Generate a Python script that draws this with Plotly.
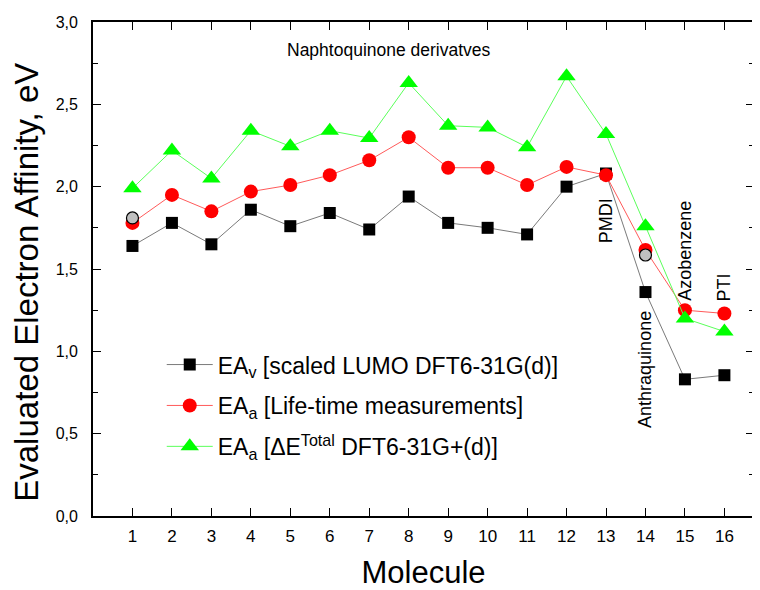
import plotly.graph_objects as go

molecules = list(range(1, 17))
ea_v_lumo = [1.64, 1.78, 1.65, 1.86, 1.76, 1.84, 1.74, 1.94, 1.78, 1.75, 1.71, 2.00, 2.08, 1.36, 0.83, 0.855]
ea_a_lifetime = [1.78, 1.95, 1.85, 1.97, 2.01, 2.07, 2.16, 2.30, 2.115, 2.115, 2.01, 2.12, 2.07, 1.615, 1.25, 1.23]
ea_a_total = [1.99, 2.22, 2.05, 2.34, 2.245, 2.34, 2.295, 2.63, 2.37, 2.36, 2.24, 2.67, 2.32, 1.76, 1.20, 1.12]
extra_x = [1, 14]
extra_y = [1.81, 1.585]

y_ticks = [0.0, 0.5, 1.0, 1.5, 2.0, 2.5, 3.0]
y_tick_text = ["0,0", "0,5", "1,0", "1,5", "2,0", "2,5", "3,0"]

labels_text = ["PMDI", "Anthraquinone", "Azobenzene", "PTI"]
labels_x = [13, 14, 15, 16]
labels_y = [1.79, 0.89, 1.61, 1.39]

FONT = "Liberation Sans"

fig = go.Figure()
fig.add_trace(go.Scatter(
    x=molecules, y=ea_v_lumo, mode="lines+markers",
    name="EA<sub>v</sub> [scaled LUMO DFT6-31G(d)]", legendgroup="a",
    line=dict(color="#7a7a7a", width=1),
    marker=dict(symbol="square", size=12, color="black"),
))
fig.add_trace(go.Scatter(
    x=molecules, y=ea_a_lifetime, mode="lines+markers",
    name="EA<sub>a</sub> [Life-time measurements]", legendgroup="b",
    line=dict(color="#ff5a5a", width=1),
    marker=dict(symbol="circle", size=14, color="#ff0000"),
))
fig.add_trace(go.Scatter(
    x=molecules, y=ea_a_total, mode="lines+markers",
    name="EA<sub>a</sub> [ΔE<sup>Total</sup> DFT6-31G+(d)]", legendgroup="c",
    line=dict(color="#5aff5a", width=1),
    marker=dict(symbol="triangle-up", size=16, color="#00ff00"),
))
fig.add_trace(go.Scatter(
    x=extra_x, y=extra_y, mode="markers", showlegend=False,
    marker=dict(symbol="circle", size=12, color="#c0c0c0",
                line=dict(color="black", width=1.2)),
))

fig.add_annotation(x=7.49, y=2.83, text="Naphtoquinone derivatves", showarrow=False,
                   font=dict(family=FONT, size=17.5, color="black"))
for t, xx, yy in zip(labels_text, labels_x, labels_y):
    fig.add_annotation(x=xx, y=yy, text=t, textangle=-90, showarrow=False,
                       font=dict(family=FONT, size=18, color="black"))

fig.add_annotation(xref="paper", yref="paper", x=-0.1, y=0.474,
                   xanchor="center", yanchor="middle",
                   text="Evaluated Electron Affinity, eV", textangle=-90, showarrow=False,
                   font=dict(family=FONT, size=33, color="black"))

fig.update_layout(
    width=752, height=582,
    margin=dict(l=85, r=4, t=14, b=72),
    paper_bgcolor="white", plot_bgcolor="white",
    font=dict(family=FONT, color="black"),
    legend=dict(x=0.104, y=0.35, xanchor="left", yanchor="top",
                bgcolor="rgba(0,0,0,0)", font=dict(family=FONT, size=23),
                itemwidth=46, tracegroupgap=8, traceorder="grouped"),
    xaxis=dict(
        range=[0, 16.75], tickvals=molecules, ticktext=[str(m) for m in molecules],
        ticks="inside", ticklen=8, tickwidth=1.2, tickcolor="black",
        showline=True, linecolor="black", linewidth=1.8, mirror="ticks",
        showgrid=False, zeroline=False, ticklabelstandoff=4,
        tickfont=dict(family=FONT, size=17),
        title=dict(text="Molecule", font=dict(family=FONT, size=31), standoff=18),
    ),
    yaxis=dict(
        range=[0, 3.0], tickvals=y_ticks, ticktext=y_tick_text,
        ticks="inside", ticklen=8, tickwidth=1.2, tickcolor="black",
        minor=dict(ticks="inside", ticklen=5, dtick=0.25, tickcolor="black", tickwidth=1.2, showgrid=False),
        showline=True, linecolor="black", linewidth=1.8, mirror="ticks",
        showgrid=False, zeroline=False, ticklabelstandoff=10,
        tickfont=dict(family=FONT, size=16),
    ),
)

fig.write_html("out.html")
